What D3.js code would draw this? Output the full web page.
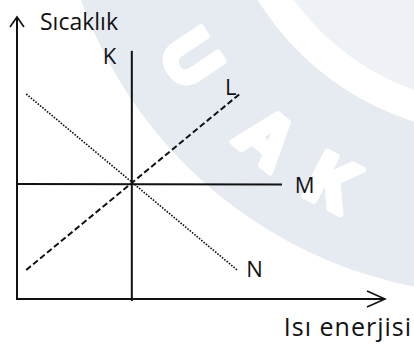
<!DOCTYPE html>
<html>
<head>
    <meta charset="utf-8">
    <title>Sıcaklık - Isı enerjisi</title>
    <script src="https://d3js.org/d3.v7.min.js"></script>
    <style>
        body { margin: 0; background: #fff; }
        text { font-family: 'Open Sans', sans-serif; fill: #111; }
    </style>
</head>
<body>
<script>
    // axis labels
    var yTitle = "Sıcaklık",
        xTitle = "Isı enerjisi";

    // lines, in axis units (0..10 on both axes)
    var lineNames = ["K", "L", "M", "N"];
    var lineStyles = ["solid", "dashed", "solid", "dotted"];
    var lineStartX = [3.12, 0.25, 0, 0.25];
    var lineStartY = [0, 1.03, 4.08, 7.27];
    var lineEndX = [3.12, 6.07, 7.2, 5.98];
    var lineEndY = [8.8, 7.29, 4.06, 1.03];

    // label anchors for every line, axis units
    var labelX = [2.33, 5.65, 7.55, 6.23];
    var labelY = [8.34, 7.23, 3.76, 0.78];

    // watermark letters: glyph, angle on the ring (deg), radius
    var markLetters = ["U", "A", "K"];
    var markAngles = [146, 129, 117];
    var markRadius = [372, 370, 372];

    var width = 414,
        height = 345;

    var svg = d3.select("body").append("svg")
        .attr("width", width)
        .attr("height", height);

    /* WATERMARK */
    var mark = svg.append("g").attr("transform", "translate(500,-150)");
    var ring = d3.arc().startAngle(0).endAngle(2 * Math.PI);
    mark.append("path").attr("d", ring({innerRadius: 0, outerRadius: 255})).attr("fill", "#eef1f6");
    mark.append("path").attr("d", ring({innerRadius: 285, outerRadius: 445})).attr("fill", "#e6eaf1");
    mark.selectAll(".wm")
        .data(markLetters)
        .enter().append("text")
        .attr("class", "wm")
        .attr("transform", function (d, i) {
            var a = markAngles[i] * Math.PI / 180, r = markRadius[i];
            return "translate(" + (r * Math.cos(a)) + "," + (r * Math.sin(a)) + ") rotate(" + (markAngles[i] - 90) + ")";
        })
        .attr("text-anchor", "middle")
        .attr("dy", "0.36em")
        .style("font-size", "70px")
        .style("font-weight", "bold")
        .style("fill", "#fff")
        .style("stroke", "#fff")
        .style("stroke-width", 6)
        .style("stroke-linejoin", "round")
        .text(function (d) { return d; });

    /* SCALES */
    var x = d3.scaleLinear().domain([0, 10]).range([17, 385]);
    var y = d3.scaleLinear().domain([0, 10]).range([299, 17]);

    // axes: plain lines with open arrow heads
    var axisLine = d3.line();
    svg.append("path")
        .attr("d", axisLine([[x(0), y(0)], [x(0), y(10)]]))
        .attr("stroke", "#111").attr("stroke-width", 2).attr("fill", "none");
    svg.append("path")
        .attr("d", axisLine([[x(0) - 7, y(10) + 10], [x(0), y(10)], [x(0) + 7, y(10) + 10]]))
        .attr("stroke", "#111").attr("stroke-width", 1.6).attr("fill", "none");
    svg.append("path")
        .attr("d", axisLine([[x(0) - 1, y(0)], [x(10), y(0)]]))
        .attr("stroke", "#111").attr("stroke-width", 2).attr("fill", "none");
    svg.append("path")
        .attr("d", axisLine([[x(10) - 18, y(0) - 8], [x(10), y(0)], [x(10) - 18, y(0) + 8]]))
        .attr("stroke", "#111").attr("stroke-width", 1.6).attr("fill", "none");

    /* LINES */
    function dash(s) {
        return s == "dashed" ? "6,3" : s == "dotted" ? "1.6,1.4" : null;
    }
    svg.selectAll(".graph")
        .data(lineNames)
        .enter().append("line")
        .attr("class", "graph")
        .attr("x1", function (d, i) { return x(lineStartX[i]); })
        .attr("y1", function (d, i) { return y(lineStartY[i]) + (d == "K" ? 2 : 0); })
        .attr("x2", function (d, i) { return x(lineEndX[i]); })
        .attr("y2", function (d, i) { return y(lineEndY[i]); })
        .attr("stroke", "#111")
        .attr("stroke-width", function (d, i) { return lineStyles[i] == "dotted" ? 1.6 : 2; })
        .attr("stroke-dasharray", function (d, i) { return dash(lineStyles[i]); });

    svg.selectAll(".lbl")
        .data(lineNames)
        .enter().append("text")
        .attr("class", "lbl")
        .attr("x", function (d, i) { return x(labelX[i]); })
        .attr("y", function (d, i) { return y(labelY[i]); })
        .style("font-size", "22px")
        .text(function (d) { return d; });

    // axis titles
    svg.append("text")
        .attr("x", 40).attr("y", 30)
        .style("font-size", "23px")
        .text(yTitle);
    svg.append("text")
        .attr("x", 412).attr("y", 336)
        .attr("text-anchor", "end")
        .style("font-size", "25px")
        .style("letter-spacing", "1px")
        .text(xTitle);
</script>
</body>
</html>
